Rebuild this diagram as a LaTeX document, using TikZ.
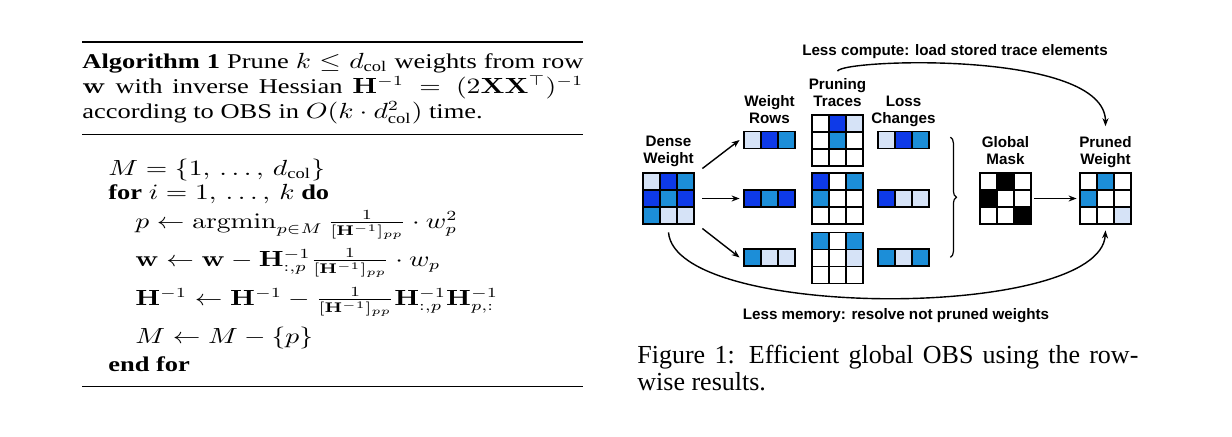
\documentclass[tikz,border=0pt]{standalone}
\usepackage{amsmath}
\usepackage{amsfonts}
\usepackage{graphicx}
\usepackage[no-math]{fontspec}
\setmainfont{Liberation Serif}
\setsansfont{Liberation Sans}
\usetikzlibrary{arrows.meta,decorations.pathreplacing}

\definecolor{dk}{RGB}{14,58,232}
\definecolor{md}{RGB}{28,142,216}
\definecolor{lt}{RGB}{214,227,247}

\newcommand{\algx}[1]{\scalebox{1.26}[1]{#1}}
\newcommand{\wmat}[5]{% name, centre x, centre y, rows, cell colours
  \foreach \cc [count=\idx from 0] in {#5} {
    \pgfmathtruncatemacro{\mrow}{div(\idx,3)}
    \pgfmathtruncatemacro{\mcol}{mod(\idx,3)}
    \draw[cell, fill=\cc] (#2-25.5+\mcol*17, #3-#4*8.5+\mrow*17) rectangle ++(17,17);
  }
  \node[matbox, minimum height=#4*8.5pt] (#1) at (#2,#3) {};
}

\begin{document}
\begin{tikzpicture}[x=0.5pt, y=-0.5pt,
    cell/.style={draw=black, line width=0.9pt},
    matbox/.style={draw=none, inner sep=0, minimum width=25.5pt},
    lbl/.style={font=\sffamily\bfseries\fontsize{7.6}{8.5}\selectfont, align=center, inner sep=0, text depth=0pt, anchor=south},
    note/.style={font=\sffamily\bfseries\fontsize{7.6}{9}\selectfont, inner sep=0, anchor=base},
    arr/.style={-{Stealth[length=4pt,width=3pt]}, line width=0.7pt},
    alg/.style={anchor=base west, inner sep=0, font=\fontsize{10.5}{12.5}\selectfont}]
     \useasboundingbox (0,0) rectangle (1232,436);

     % algorithm
     \draw[line width=0.8pt] (82,42) -- (583,42);
     \node[alg] (algcap) at (82,68) {\algx{\parbox[t]{198.8pt}{\textbf{Algorithm 1} Prune $k \le d_{\text{col}}$ weights from row\linebreak
       $\mathbf{w}$ with inverse Hessian $\mathbf{H}^{-1} = (2\mathbf{X}\mathbf{X}^\top)^{-1}$\linebreak
       according to OBS in $O(k \cdot d_{\text{col}}^2)$ time.}}};
     \draw[line width=0.5pt] (82,134) -- (583,134);

     \node[alg] (init) at (108,175) {\algx{$M = \{1,\, \dots,\, d_{\text{col}}\}$}};
     \node[alg] (forline) at (108,199) {\algx{\textbf{for} $i = 1,\, \dots,\, k$ \textbf{do}}};
     \node[alg] (pline) at (135,228) {\algx{$p \leftarrow \operatorname{argmin}_{p \in M} \frac{1}{[\mathbf{H}^{-1}]_{pp}} \cdot w_p^2$}};
     \node[alg] (wline) at (135,266) {\algx{$\mathbf{w} \leftarrow \mathbf{w} - \mathbf{H}^{-1}_{:,p} \frac{1}{[\mathbf{H}^{-1}]_{pp}} \cdot w_p$}};
     \node[alg] (hline) at (135,305) {\algx{$\mathbf{H}^{-1} \leftarrow \mathbf{H}^{-1} - \frac{1}{[\mathbf{H}^{-1}]_{pp}} \mathbf{H}^{-1}_{:,p} \mathbf{H}^{-1}_{p,:}$}};
     \node[alg] (mline) at (135,343) {\algx{$M \leftarrow M - \{p\}$}};
     \node[alg] (endfor) at (108,371) {\algx{\textbf{end for}}};
     \draw[line width=0.5pt] (82,386) -- (583,386);

     % matrices
     \wmat{dense}{668.5}{198.5}{3}{lt,dk,md,dk,md,dk,md,lt,lt}
     \wmat{rows1}{769.5}{140}{1}{lt,dk,md}
     \wmat{rows2}{769.5}{198.5}{1}{dk,md,dk}
     \wmat{rows3}{769.5}{257.5}{1}{md,lt,lt}
     \wmat{trace1}{837.5}{140.5}{3}{white,dk,lt,white,md,white,white,white,white}
     \wmat{trace2}{837.5}{198.5}{3}{dk,white,md,md,white,white,white,white,white}
     \wmat{trace3}{837.5}{258}{3}{md,white,md,white,white,lt,white,white,white}
     \wmat{loss1}{903.5}{140}{1}{lt,dk,md}
     \wmat{loss2}{903.5}{198.5}{1}{dk,lt,lt}
     \wmat{loss3}{903.5}{257.5}{1}{md,lt,md}
     \wmat{mask}{1005.5}{198.5}{3}{white,black,white,black,white,white,white,white,black}
     \wmat{pruned}{1105.5}{198.5}{3}{white,md,white,md,white,white,white,white,lt}

     \node[lbl] (densetxt) at (668.5,164) {Dense\\Weight};
     \node[lbl] (rowstxt) at (769.5,123.5) {Weight\\Rows};
     \node[lbl] (tracetxt) at (837.5,106.5) {Pruning\\Traces};
     \node[lbl] (losstxt) at (903.5,123.5) {Loss\\Changes};
     \node[lbl] (masktxt) at (1005.5,164.5) {Global\\Mask};
     \node[lbl] (prunedtxt) at (1105.5,164.5) {Pruned\\Weight};

     \draw[arr] ([xshift=4pt,yshift=15pt]dense.east) -- ([xshift=-2pt]rows1.west);
     \draw[arr] ([xshift=4pt]dense.east) -- ([xshift=-2pt]rows2.west);
     \draw[arr] ([xshift=4pt,yshift=-15pt]dense.east) -- ([xshift=-2pt]rows3.west);
     \draw[line width=0.6pt, decorate, decoration={brace, amplitude=3pt}]
        ([xshift=10.5pt,yshift=-3pt]loss1.north east) -- ([xshift=10.5pt,yshift=4.5pt]loss3.south east);
     \draw[arr] ([xshift=1.5pt]mask.east) -- ([xshift=-1.5pt]pruned.west);

     \draw[arr] ([yshift=3.25pt]tracetxt.north) .. controls +(3,-12) and +(0,-77) .. ([yshift=4.75pt]prunedtxt.north);
     \draw[arr] ([yshift=-4pt]dense.south) .. controls +(7,88) and +(-5,90) .. ([yshift=-3pt]pruned.south);
     \node[note] (computetxt) at (955,55) {Less compute: load stored trace elements};
     \node[note] (memorytxt) at (896,319) {Less memory: resolve not pruned weights};

     % caption
     \node[anchor=base west, inner sep=0] (caption) at (637,363) {\parbox[t]{250.5pt}{\fontsize{13}{13.5}\selectfont Figure 1: Efficient global OBS using the row-\linebreak wise results.}};
\end{tikzpicture}
\end{document}
